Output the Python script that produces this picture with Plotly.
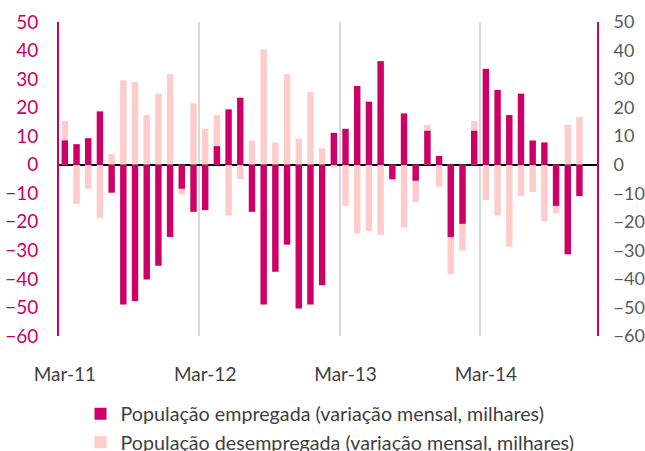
import pandas as pd
import plotly.graph_objects as go

# monthly categories, Mar-11 .. Dec-14 (last month has no data)
months = pd.date_range("2011-03-01", periods=46, freq="MS").strftime("%b-%y").tolist()

employed = [
    8.5, 7.2, 9.3, 18.7, -9.8, -49.0, -47.7, -40.2, -35.4, -25.3, -8.4, -16.5,
    -15.9, 6.5, 19.4, 23.5, -16.5, -49.0, -37.5, -28.0, -50.4, -49.0, -42.2, 11.2,
    12.6, 27.6, 22.1, 36.3, -5.0, 18.0, -5.6, 11.9, 3.1, -25.3, -20.7, 11.9,
    33.6, 26.2, 17.4, 24.9, 8.5, 7.8, -14.4, -31.4, -11.0, None,
]
unemployed = [
    15.3, -13.7, -8.4, -18.6, 3.7, 29.6, 28.9, 17.4, 24.9, 31.7, -10.4, 21.5,
    12.6, 17.4, -17.8, -5.0, 8.5, 40.4, 7.8, 31.7, 9.2, 25.5, 5.8, -1.0,
    -14.4, -24.1, -23.3, -24.6, -5.6, -22.0, -13.1, 14.0, -7.7, -38.3, -30.1, 15.3,
    -12.4, -17.8, -28.7, -11.0, -9.6, -19.9, -17.1, 14.0, 16.7, None,
]

names = [
    "População empregada (variação mensal, milhares)",
    "População desempregada (variação mensal, milhares)",
]

DARK = "#CC0066"
LIGHT = "#FFCCCC"
FONT = "Lato"

fig = go.Figure()
fig.add_trace(go.Bar(x=months, y=unemployed, name=names[1], width=0.55,
                     marker=dict(color=LIGHT, line=dict(width=0))))
fig.add_trace(go.Bar(x=months, y=employed, name=names[0], width=0.55,
                     marker=dict(color=DARK, line=dict(width=0))))
# invisible trace so the right axis is drawn
fig.add_trace(go.Scatter(x=[months[0]], y=[0], yaxis="y2", mode="markers",
                         marker=dict(opacity=0), showlegend=False, hoverinfo="skip"))

# the legend's second line runs past the bottom edge like in the original,
# so the figure is a bit taller than the window
fig.update_layout(
    width=645, height=475,
    margin=dict(l=59, r=48, t=22, b=130),
    paper_bgcolor="white", plot_bgcolor="white",
    barmode="overlay",
    font=dict(family=FONT, size=18, color="#404040"),
    showlegend=True,
    legend=dict(
        orientation="v", x=0.04, y=-130 / 323, xanchor="left", yanchor="bottom",
        traceorder="reversed", font=dict(size=19.7, color="#404040"),
        itemwidth=30, tracegroupgap=0, bgcolor="rgba(0,0,0,0)",
    ),
    xaxis=dict(
        type="category", tickmode="linear", tick0=0, dtick=12,
        tickson="boundaries", ticks="", showgrid=True, gridcolor="#D9D9D9",
        gridwidth=2, showline=False, range=[-0.5, 45.5], tickangle=0,
        automargin=False, tickfont=dict(size=19, color="#404040"),
        ticklabelstandoff=25,
    ),
    yaxis=dict(
        range=[-60, 50], dtick=10, showgrid=False, automargin=False,
        zeroline=True, zerolinecolor="black", zerolinewidth=2,
        showline=True, linecolor=DARK, linewidth=2, ticks="",
        tickfont=dict(size=19, color=DARK), ticklabelstandoff=15,
    ),
    yaxis2=dict(
        overlaying="y", side="right", range=[-60, 50], dtick=10,
        showgrid=False, zeroline=False, automargin=False,
        showline=True, linecolor=DARK, linewidth=2, ticks="",
        tickfont=dict(size=18, color="#555B5B"), ticklabelstandoff=11,
    ),
)

# drop the default 8px page margin so the figure sits at the window corner
fig.write_html("out.html", config={"displayModeBar": False},
               post_script="document.body.style.margin = '0';")
